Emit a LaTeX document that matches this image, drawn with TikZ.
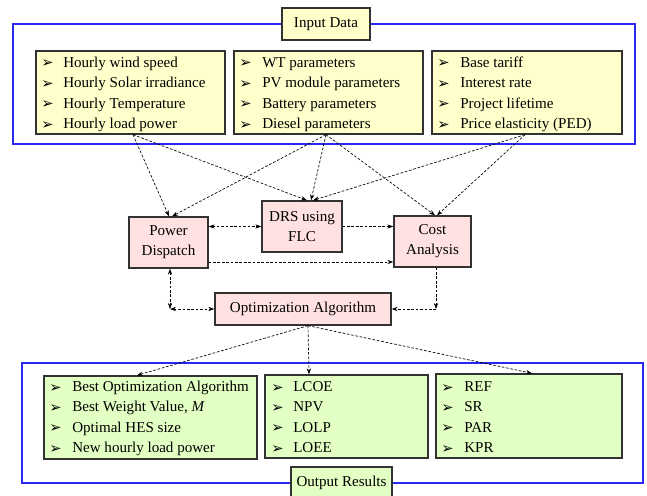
\documentclass[tikz,border=0pt]{standalone}
\usepackage{fontspec}
\setmainfont{Liberation Serif}
\newfontfamily\symfont{DejaVu Sans}
\usetikzlibrary{arrows.meta,fit,calc}
\definecolor{yfill}{RGB}{255,255,204}
\definecolor{pfill}{RGB}{255,225,225}
\definecolor{gfill}{RGB}{226,255,196}
\definecolor{frameblue}{RGB}{40,40,240}
\definecolor{edge}{RGB}{50,50,50}
\newcommand{\bul}{{\symfont\fontsize{11}{11}\selectfont ➢}}
\begin{document}
\begin{tikzpicture}[x=0.75pt,y=-0.75pt,
  every node/.style={font=\fontsize{11.3}{13}\selectfont},
  frame/.style={draw=frameblue,line width=0.9pt},
  ybox/.style={draw=edge,line width=1pt,fill=yfill,inner sep=0pt},
  gbox/.style={draw=edge,line width=1pt,fill=gfill,inner sep=0pt},
  pbox/.style={draw=edge,line width=1pt,fill=pfill,inner sep=0pt,align=center},
  item/.style={anchor=base west,inner sep=0pt},
  conn/.style={draw=black,line width=0.5pt,dash pattern=on 2pt off 1.3pt,-{Stealth[length=4.5pt,width=3.2pt]}},
  dconn/.style={conn,{Stealth[length=4.5pt,width=3.2pt]}-{Stealth[length=4.5pt,width=3.2pt]}}]
\useasboundingbox (0,0) rectangle (647,496);
\clip (0,0) rectangle (647,496);
% frames
\draw[frame] (13,24) rectangle (635,144);
\draw[frame] (22,363) rectangle (643,483);
\node[ybox,fit={(282,8) (370,40)}] (indata) {};
\node at (indata.center) {Input Data};
\node[gbox,fit={(291,467) (392,500)}] (outres) {};
\node (outlabel) at (341.5,483) {Output Results};
% input boxes
\node[ybox,fit={(36,51) (225,134)}] (b1) {};
\node[ybox,fit={(234,51) (423,134)}] (b2) {};
\node[ybox,fit={(432,51) (622,134)}] (b3) {};
\foreach \t [count=\i] in {Hourly wind speed,Hourly Solar irradiance,Hourly Temperature,Hourly load power}{
  \node[item] (b1b\i) at (41,{67.5+20.6*(\i-1)}) {\bul};
  \node[item] (b1t\i) at (63,{67+20.6*(\i-1)}) {\t};
}
\foreach \t [count=\i] in {WT parameters,PV module parameters,Battery parameters,Diesel parameters}{
  \node[item] (b2b\i) at (239,{67.5+20.6*(\i-1)}) {\bul};
  \node[item] (b2t\i) at (262,{67+20.6*(\i-1)}) {\t};
}
\foreach \t [count=\i] in {Base tariff,Interest rate,Project lifetime,Price elasticity (PED)}{
  \node[item] (b3b\i) at (437,{67.5+20.6*(\i-1)}) {\bul};
  \node[item] (b3t\i) at (460,{67+20.6*(\i-1)}) {\t};
}
% middle boxes
\node[pbox,fit={(129,217) (208,268)}] (pd) {};
\node[align=center] at (pd.center) {Power\\[2pt]Dispatch};
\node[pbox,fit={(262,201) (342,252)}] (drs) {};
\node[align=center] at (drs.center) {DRS using\\[2pt]FLC};
\node[pbox,fit={(394,216) (471,267)}] (cost) {};
\node[align=center] at (cost.center) {Cost\\[2pt]Analysis};
\node[pbox,fit={(215,293) (391,325)}] (opt) {};
\node at (opt.center) {Optimization Algorithm};
% output boxes
\node[gbox,fit={(44,376) (257,459)}] (o1) {};
\node[gbox,fit={(265,375) (428,458)}] (o2) {};
\node[gbox,fit={(436,374) (622,458)}] (o3) {};
\foreach \t [count=\i] in {Best Optimization Algorithm,{Best Weight Value, \textit{M}},Optimal HES size,New hourly load power}{
  \node[item] (o1b\i) at (49,{392+20.4*(\i-1)}) {\bul};
  \node[item] (o1t\i) at (72,{391.5+20.4*(\i-1)}) {\t};
}
\foreach \t [count=\i] in {LCOE,NPV,LOLP,LOEE}{
  \node[item] (o2b\i) at (271,{392+20.4*(\i-1)}) {\bul};
  \node[item] (o2t\i) at (293,{391.5+20.4*(\i-1)}) {\t};
}
\foreach \t [count=\i] in {REF,SR,PAR,KPR}{
  \node[item] (o3b\i) at (441,{392+20.4*(\i-1)}) {\bul};
  \node[item] (o3t\i) at (464,{391.5+20.4*(\i-1)}) {\t};
}
% connector end points
\coordinate (b1o) at ($(b1.south)+(2.5,0)$);
\coordinate (b2o) at ($(b2.south)+(-2.5,0)$);
\coordinate (b3o) at ($(b3.south)+(-2,0)$);
\coordinate (pdA) at ($(pd.north)+(0.5,0)$);
\coordinate (pdB) at ($(pd.north)+(3.5,0)$);
\coordinate (drsA) at ($(drs.north)+(5,0)$);
\coordinate (drsB) at ($(drs.north)+(9,0)$);
\coordinate (drsC) at ($(drs.north)+(11,0)$);
\coordinate (costA) at ($(cost.north)+(2.5,0)$);
\coordinate (costB) at ($(cost.north)+(4.5,0)$);
% input -> middle
\draw[conn] (b1o) -- (pdA);
\draw[conn] (b1o) -- (drsA);
\draw[conn] (b2o) -- (pdB);
\draw[conn] (b2o) -- (drsB);
\draw[conn] (b2o) -- (costA);
\draw[conn] (b3o) -- (drsC);
\draw[conn] (b3o) -- (costB);
% middle links
\draw[dconn] (drs.west -| pd.east) -- (drs.west);
\draw[conn] (drs.east) -- (drs.east -| cost.west);
\coordinate (pdR) at ($(pd.east)+(0,19.5)$);
\draw[conn] (pdR) -- (pdR -| cost.west);
\coordinate (pdS) at ($(pd.south)+(1.5,0)$);
\coordinate (pdC) at (pdS |- opt.west);
\draw[dconn] (pdS) -- (pdC);
\draw[dconn] (pdC) -- (opt.west);
\coordinate (costS) at ($(cost.south)+(3.5,0)$);
\coordinate (costC) at (costS |- opt.east);
\draw[conn] (costS) -- (costC);
\draw[conn] (costC) -- (opt.east);
% opt -> outputs
\coordinate (optS) at ($(opt.south)+(5,0)$);
\draw[conn] (optS) -- ($(o1.north)+(-13.5,0)$);
\draw[conn] (optS) -- ($(o2.north)+(-37.5,0)$);
\draw[conn] (optS) -- ($(o3.north)+(3,0)$);
\end{tikzpicture}
\end{document}
